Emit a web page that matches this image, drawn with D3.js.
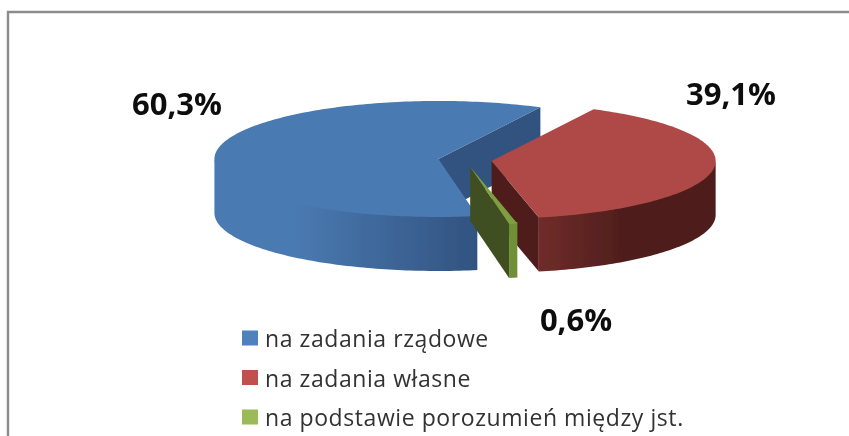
<!DOCTYPE html>
<html><head><meta charset="utf-8">
<script src="https://cdn.jsdelivr.net/npm/d3@7/dist/d3.min.js"></script>
<style>html,body{margin:0;padding:0;background:#fff}svg{display:block}</style></head>
<body><svg id="c" width="849" height="436"></svg>
<script>
const categories = ["na zadania rządowe","na zadania własne","na podstawie porozumień między jst."];
const values = [60.3,39.1,0.6];
const valueLabels = ["60,3%","39,1%","0,6%"];
const topColors = ["#4a7ab2","#ae4a46","#7d9f42"];
const wallColors = ["#315380","#4f1e1c","#404f22"];
const sideStart = ["#4a7ab2","#702c2a","#6f9038"];
const sideEnd = ["#315380","#4f1e1c","#6f9038"];
const legendColors = ["#4f81bd","#c0504d","#9bbb59"];
const labelPos = [[177,103],[731,93],[576,319]];

const W=849,H=436, cx=465, cy=160, rx=224, ry=58, depth=54, explode=0.12;
const TAU=2*Math.PI;
const svg=d3.select("#c");
const defs=svg.append("defs");
defs.append("filter").attr("id","soft").append("feGaussianBlur").attr("stdDeviation",0.55);
const root=svg.append("g").attr("filter","url(#soft)");

// frame: open on the right, runs off the bottom and right edges
root.append("path").attr("d",`M8,440V12H853`).attr("fill","none").attr("stroke","#8c8c8c").attr("stroke-width",2.4);

const pie=d3.pie().sort(null).startAngle(170*Math.PI/180).endAngle((170+360)*Math.PI/180);
const arcs=pie(values).map((d,i)=>{
  const mid=(d.startAngle+d.endAngle)/2;
  return {i,a0:d.startAngle,a1:d.endAngle,
    ox:cx+explode*rx*Math.sin(mid), oy:cy-explode*ry*Math.cos(mid)};
});
const P=(s,a,dz=0)=>[s.ox+rx*Math.sin(a), s.oy-ry*Math.cos(a)+dz];
const line=d3.line();
function rimPts(s,a0,a1,dz=0){
  const n=Math.max(2,Math.ceil((a1-a0)/0.02));
  return d3.range(n+1).map(k=>P(s,a0+(a1-a0)*k/n,dz));
}
function wall(s,a){
  const c=[s.ox,s.oy], e=P(s,a);
  return line([c,e,[e[0],e[1]+depth],[c[0],c[1]+depth]])+"Z";
}
function sidePath(s,a0,a1){
  // starts 1.5px above the rim so no seam shows under the top face
  const t=rimPts(s,a0,a1,-1.5), b=rimPts(s,a0,a1,depth).reverse();
  return line(t.concat(b))+"Z";
}
function topPath(s){
  return line([[s.ox,s.oy]].concat(rimPts(s,s.a0,s.a1)))+"Z";
}
const [blue,red,green]=arcs;
// visible part of each rim (the front half of the ellipse)
const blueVis=[blue.a0,1.5*Math.PI];
const redVis=[TAU+Math.PI/2,red.a1];
const greenVis=[green.a0,green.a1];

function grad(id,x1,x2,c1,c2,mid){
  const g=defs.append("linearGradient").attr("id",id).attr("gradientUnits","userSpaceOnUse")
    .attr("x1",x1).attr("x2",x2).attr("y1",0).attr("y2",0);
  g.append("stop").attr("offset",0).attr("stop-color",c1);
  g.append("stop").attr("offset",mid).attr("stop-color",c1);
  g.append("stop").attr("offset",1).attr("stop-color",c2);
}
grad("side0",blue.ox-rx,P(blue,blue.a0)[0],sideStart[0],sideEnd[0],0.3);
grad("side1",P(red,red.a1)[0],P(red,red.a1)[0]+85,sideStart[1],sideEnd[1],0);
grad("side2",P(green,green.a0)[0],P(green,green.a1)[0],sideStart[2],sideEnd[2],0);

const pies=root.append("g");
// blue
pies.append("path").attr("d",wall(blue,blue.a1)).attr("fill",wallColors[0]);
pies.append("path").attr("d",sidePath(blue,blueVis[0],blueVis[1])).attr("fill","url(#side0)");
pies.append("path").attr("d",topPath(blue)).attr("fill",topColors[0]);
// red
pies.append("path").attr("d",wall(red,red.a1)).attr("fill",wallColors[1]);
pies.append("path").attr("d",sidePath(red,redVis[0],redVis[1])).attr("fill","url(#side1)");
pies.append("path").attr("d",topPath(red)).attr("fill",topColors[1]);
// green
pies.append("path").attr("d",wall(green,green.a1)).attr("fill",wallColors[2]);
pies.append("path").attr("d",sidePath(green,greenVis[0],greenVis[1])).attr("fill","url(#side2)");
pies.append("path").attr("d",topPath(green)).attr("fill",topColors[2]);

// value labels
root.selectAll("text.v").data(valueLabels).join("text").attr("class","v")
  .attr("x",(d,i)=>labelPos[i][0]).attr("y",(d,i)=>labelPos[i][1])
  .attr("text-anchor","middle").attr("dominant-baseline","central")
  .attr("font-family","'Open Sans',sans-serif").attr("font-weight",700).attr("font-size",31)
  .attr("fill","#111").text(d=>d);

// legend
const legY=d3.scalePoint().domain(categories).range([338,417]);
const leg=root.selectAll("g.l").data(categories).join("g").attr("class","l")
  .attr("transform",d=>`translate(242,${legY(d)})`);
leg.append("rect").attr("y",-7.5).attr("width",16).attr("height",15).attr("fill",(d,i)=>legendColors[i]);
leg.append("text").attr("x",23).attr("y",0).attr("dominant-baseline","central")
  .attr("font-family","'Open Sans',sans-serif").attr("font-size",23).attr("letter-spacing",0.57).attr("fill","#333").text(d=>d);
</script></body></html>
